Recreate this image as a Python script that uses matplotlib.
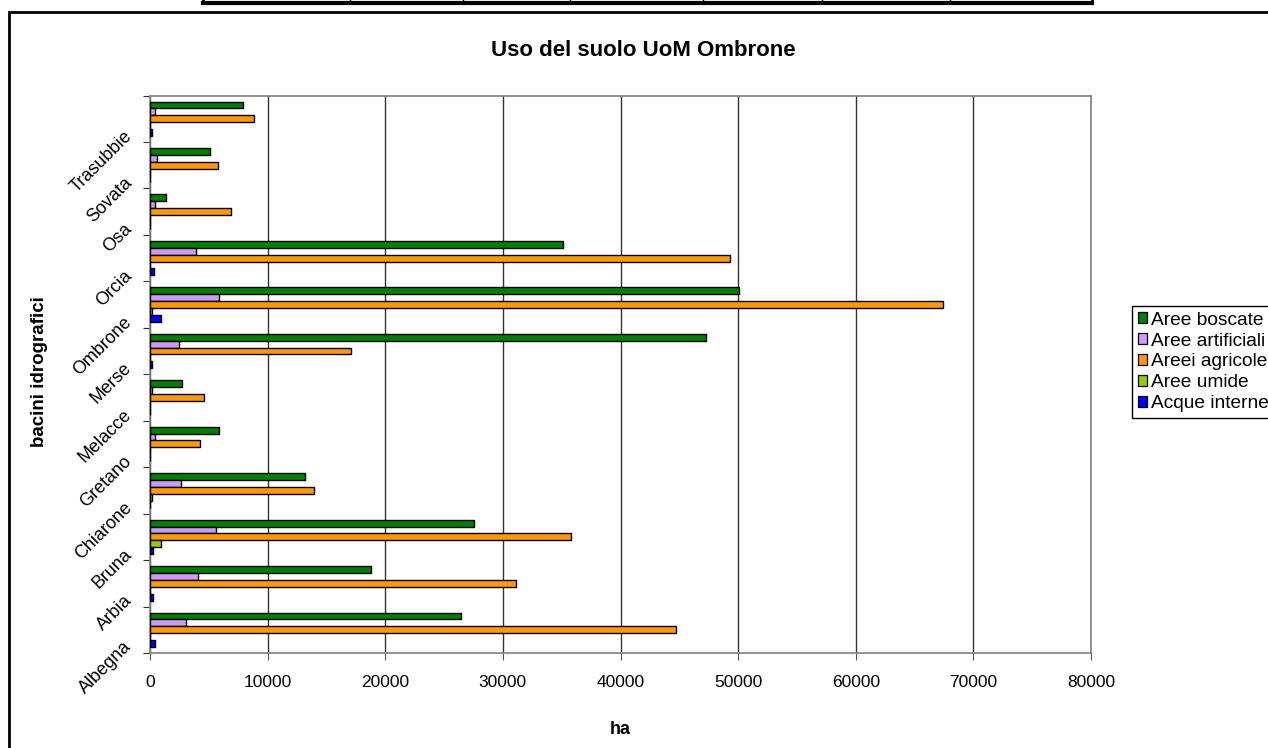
import numpy as np
import matplotlib
matplotlib.use("Agg")
import matplotlib.pyplot as plt
from matplotlib.patches import Patch, Rectangle
from matplotlib.lines import Line2D

plt.rcParams['font.family'] = ['Liberation Sans', 'DejaVu Sans']

# bacini, dal basso verso l'alto
bacini = ['Albegna', 'Arbia', 'Bruna', 'Chiarone', 'Gretano', 'Melacce',
          'Merse', 'Ombrone', 'Orcia', 'Osa', 'Sovata', 'Trasubbie']

# ha per classe di uso del suolo
aree_boscate = [26420, 18820, 27550, 13150, 5870, 2700,
                47250, 50110, 35150, 1390, 5130, 7890]
aree_artificiali = [3090, 4080, 5610, 2610, 430, 200,
                    2500, 5870, 3940, 430, 600, 450]
aree_agricole = [44730, 31100, 35770, 13980, 4280, 4620,
                 17120, 67460, 49320, 6920, 5820, 8800]
aree_umide = [0, 0, 910, 200, 0, 0,
              0, 200, 0, 0, 0, 0]
acque_interne = [430, 290, 290, 0, 0, 0,
                 200, 910, 340, 0, 0, 200]

serie = [
    ('Aree boscate', aree_boscate, '#008000'),
    ('Aree artificiali', aree_artificiali, '#CC99FF'),
    ('Areei agricole', aree_agricole, '#FF9900'),
    ('Aree umide', aree_umide, '#99CC00'),
    ('Acque interne', acque_interne, '#0000FF'),
]

fig = plt.figure(figsize=(12.68, 7.48), dpi=100)
ax = fig.add_axes([150/1268, 1-653/748, 941/1268, 557.5/748])

y = np.arange(len(bacini))
h = 0.148
for j, (nome, vals, col) in enumerate(serie):
    ax.barh(y + (2 - j)*h, vals, height=h, color=col, edgecolor='black',
            linewidth=1.0, zorder=3)

ax.set_xlim(0, 80000)
ax.set_ylim(-0.5, len(bacini) - 0.5)
ax.set_xticks(np.arange(0, 80001, 10000))
ax.tick_params(axis='x', labelsize=12.5, length=5, pad=11, color='#555555')
ax.grid(axis='x', color='#333333', linewidth=1, zorder=1)
ax.set_axisbelow(True)

# tacche tra le categorie, etichette ruotate
ax.set_yticks(np.arange(-0.5, len(bacini), 1.0))
ax.set_yticklabels([])
ax.tick_params(axis='y', which='major', length=5, color='#333333')
ax.set_yticks(y - 0.32, minor=True)
ax.set_yticklabels(bacini, minor=True, rotation=45, ha='right', va='center',
                   rotation_mode='anchor', fontsize=13)
ax.tick_params(axis='y', which='minor', length=0, pad=15)

for s in ax.spines.values():
    s.set_color('#808080')
    s.set_linewidth(1.2)

ax.set_xlabel('ha', fontsize=13, fontweight='bold', labelpad=22)
fig.text(40/1268, 1-372/748, 'bacini idrografici', rotation=90, fontsize=13.5,
         fontweight='bold', ha='center', va='center')
fig.text(643/1268, 1-50/748, 'Uso del suolo UoM Ombrone', fontsize=16,
         fontweight='bold', ha='center', va='center')

handles = [Patch(facecolor=c, edgecolor='black', linewidth=0.9, label=n)
           for n, _, c in serie]
fig.legend(handles=handles, loc='upper left',
           bbox_to_anchor=(1132/1268, 1-306/748), fontsize=13.8,
           frameon=True, fancybox=False, edgecolor='black', framealpha=1,
           borderaxespad=0, borderpad=0.3, handlelength=0.5,
           handleheight=0.5, handletextpad=0.2, labelspacing=0.2)

# cornice dell'area del grafico
fig.patches.append(Rectangle((9/1268, -0.1), 1.2, 1-12/748 + 0.1,
                             transform=fig.transFigure, fill=False,
                             edgecolor='black', linewidth=2))

# resto della tabella in alto
bordi = [203, 350, 463, 570, 703, 822, 950, 1092]
fig.lines.append(Line2D([bordi[0]/1268, bordi[-1]/1268], [1-3/748, 1-3/748],
                        transform=fig.transFigure, color='black', linewidth=3))
for xb in bordi:
    fig.lines.append(Line2D([xb/1268, xb/1268], [1-3/748, 1.0],
                            transform=fig.transFigure, color='black',
                            linewidth=2 if xb in (bordi[0], bordi[-1]) else 1))

fig.savefig('out.png', dpi=100)
